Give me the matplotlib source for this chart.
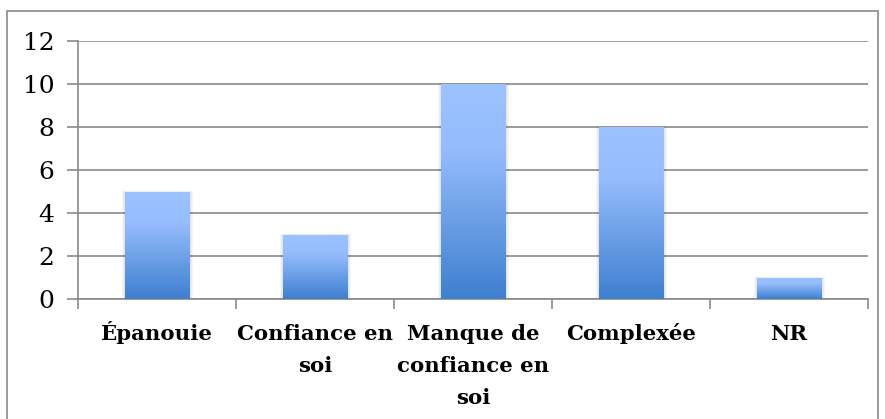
import numpy as np
import matplotlib.pyplot as plt
from matplotlib.colors import LinearSegmentedColormap
from matplotlib.patches import Rectangle
from matplotlib.transforms import offset_copy

categories = ["Épanouie", "Confiance en\nsoi", "Manque de\nconfiance en\nsoi", "Complexée", "NR"]
values = [5, 3, 10, 8, 1]
y_ticks = [0, 2, 4, 6, 8, 10, 12]

plt.rcParams['font.family'] = ['DejaVu Serif']
grid_col = '#8a8a8a'

fig = plt.figure(figsize=(8.85, 4.19), dpi=100)
ax = fig.add_axes([0.0881, 0.2864, 0.8927, 0.6157])

x = np.arange(len(values))
bars = ax.bar(x, values, width=0.41, color='none', edgecolor='none', zorder=3)

cmap = LinearSegmentedColormap.from_list(
    'g', [(0, '#3e7fcf'), (0.7, '#95bcfc'), (1, '#9cc3ff')])
grad = np.linspace(0, 1, 256).reshape(-1, 1)
for b in bars:
    x0, w, h = b.get_x(), b.get_width(), b.get_height()
    # blurred shadow, a few growing rectangles
    for k in range(1, 4):
        d = 0.006 * k
        ax.add_patch(Rectangle((x0 - d + 0.004, 0), w + 2 * d, h - 0.02 + 0.02 * k,
                               color='#000000', alpha=0.035, zorder=2.5, lw=0))
    im = ax.imshow(grad, cmap=cmap, origin='lower', aspect='auto',
                   extent=[x0, x0 + w, 0, h], zorder=3)
    im.set_clip_path(b)

ax.set_xlim(-0.5, len(values) - 0.5)
ax.set_ylim(0, 12)
ax.set_yticks(y_ticks)
ax.yaxis.grid(True, color=grid_col, lw=1.2)
ax.set_axisbelow(True)

ax.set_xticks([])
ax.set_xticks(np.arange(-0.5, len(values)), minor=True)
ax.tick_params(axis='x', which='minor', length=7, width=1.2, color=grid_col)
ax.tick_params(axis='y', length=8, width=1.2, color=grid_col, labelsize=18, pad=9)

# category labels, each line on its own baseline (32 px apart)
for i, lab in enumerate(categories):
    for j, line in enumerate(lab.split('\n')):
        tr = offset_copy(ax.get_xaxis_transform(), fig=fig, y=-(41 + 32 * j), units='dots')
        ax.text(i, 0, line, transform=tr, ha='center', va='baseline',
                fontsize=15.3, fontweight='bold', clip_on=False)

for s in ['top', 'right']:
    ax.spines[s].set_visible(False)
for s in ['left', 'bottom']:
    ax.spines[s].set_color(grid_col)
    ax.spines[s].set_linewidth(1.2)

fig.patches.append(Rectangle((7 / 885, -0.05), 871 / 885, 1.05 - 11 / 419,
                             transform=fig.transFigure, fill=False,
                             edgecolor=grid_col, lw=1.2))

fig.savefig('out.png', dpi=100)
